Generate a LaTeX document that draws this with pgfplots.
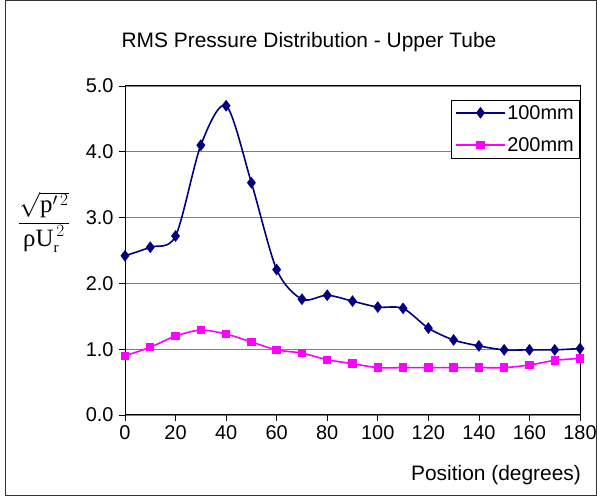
\documentclass[border=0pt]{standalone}
\usepackage{pgfplots}
\pgfplotsset{compat=1.18}
\usepackage{fontspec}
\setmainfont{Liberation Sans}
\newfontfamily\timesfont{Liberation Serif}
\definecolor{navyline}{RGB}{0,0,128}
\definecolor{magline}{RGB}{255,0,255}
\definecolor{gridgray}{RGB}{128,128,128}

\begin{document}
\begin{tikzpicture}[x=1bp,y=1bp]
\draw[black!80, line width=0.8bp] (5,0.5) rectangle (596.5,495.5);
\useasboundingbox (0,0) rectangle (597,496);
\node[font=\fontsize{21}{24}\selectfont] at (309,454) {RMS Pressure Distribution - Upper Tube};
\node[font=\fontsize{21}{24}\selectfont] at (496,21) {Position (degrees)};
\node[font=\timesfont\fontsize{25}{29}\selectfont] at (44,274)
  {$\displaystyle\frac{\sqrt{\mbox{\timesfont p}'^{\,2}}}{\mbox{\timesfont ρU}^{\,2}_{\mbox{\timesfont\fontsize{15}{15}\selectfont r}}}$};
\begin{axis}[
  at={(125bp,81bp)}, anchor=origin,
  scale only axis, width=455bp, height=329bp,
  xmin=0, xmax=180, ymin=0, ymax=5,
  xtick={0,20,...,180}, ytick={0,1,...,5},
  yticklabel style={xshift=-2bp, /pgf/number format/.cd,fixed,fixed zerofill,precision=1},
  /pgf/number format/assume math mode=true,
  ticklabel style={font=\fontsize{20}{22}\selectfont},
  xticklabel style={yshift=-1bp},
  tick align=outside, xtick pos=bottom, ytick pos=left,
  major tick length=6bp,
  tick style={black, line width=0.8bp},
  axis line style={black, line width=1bp},
  ymajorgrids, grid style={gridgray, line width=0.9bp},
  clip=false,
  legend style={at={(1,0.958)}, anchor=north east, draw=black, line width=0.6bp,
    font=\fontsize{20}{22}\selectfont, row sep=13bp, inner xsep=4bp, inner ysep=3bp,
    legend cell align=left},
  legend image code/.code={\draw[mark repeat=2,mark phase=2] plot coordinates {(0bp,0bp) (24bp,0bp) (48bp,0bp)};},
]
\addplot[navyline, line width=1.6bp, smooth, tension=0.5, mark=diamond*, mark size=4.6bp, mark options={solid, fill=navyline, draw=navyline}] coordinates {
(0,2.42) (10,2.55) (20,2.72) (30,4.10) (40,4.70) (50,3.53) (60,2.21) (70,1.76) (80,1.82) (90,1.73)
(100,1.64) (110,1.62) (120,1.32) (130,1.14) (140,1.05) (150,0.99) (160,0.99) (170,0.99) (180,1.01)};
\addplot[magline, line width=1.6bp, smooth, tension=0.5, mark=square*, mark size=3.4bp, mark options={solid, fill=magline, draw=magline}] coordinates {
(0,0.90) (10,1.03) (20,1.20) (30,1.29) (40,1.23) (50,1.11) (60,0.99) (70,0.94) (80,0.84) (90,0.78)
(100,0.72) (110,0.72) (120,0.72) (130,0.72) (140,0.72) (150,0.72) (160,0.76) (170,0.83) (180,0.86)};
\legend{100mm,200mm}
\draw[black, line width=1bp] (rel axis cs:0,1) -- (rel axis cs:1,1) -- (rel axis cs:1,0);
\end{axis}
\end{tikzpicture}
\end{document}
